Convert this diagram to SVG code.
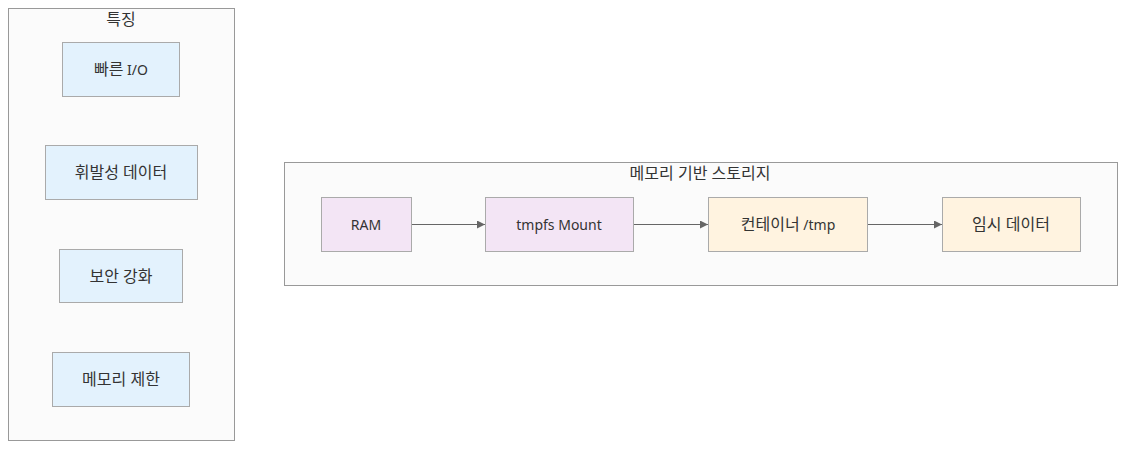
<svg xmlns="http://www.w3.org/2000/svg" width="1133" height="452" viewBox="0 0 1133 452">
<style>
text{font-family:"Noto Sans","Noto Sans CJK KR",sans-serif;font-size:14px;fill:#333;text-anchor:middle;dominant-baseline:central}
.k{font-size:16px}
.cl{fill:#fbfbfb;stroke:#999;stroke-width:1}
.blue{fill:#e3f2fd;stroke:#aaa;stroke-width:1}
.purple{fill:#f3e5f5;stroke:#aaa;stroke-width:1}
.orange{fill:#fff3e0;stroke:#aaa;stroke-width:1}
.edge{fill:none;stroke:#666;stroke-width:1}
</style>
<defs>
<marker id="arr" viewBox="0 0 10 10" refX="10" refY="5" markerWidth="8" markerHeight="8" markerUnits="userSpaceOnUse" orient="auto">
<path d="M0,0L10,5L0,10z" fill="#666"/>
</marker>
</defs>
<rect width="1133" height="452" fill="#fff"/>
<g id="cluster-features">
<rect class="cl" x="8.5" y="8.5" width="226" height="432"/>
<text class="k" x="121" y="19">특징</text>
</g>
<g id="cluster-storage">
<rect class="cl" x="284.5" y="162.5" width="833" height="123"/>
<text class="k" x="700" y="173">메모리 기반 스토리지</text>
</g>
<g id="node-fastio">
<rect class="blue" x="62.5" y="42.5" width="117" height="54"/>
<text x="121" y="69"><tspan class="k">빠른</tspan> I/O</text>
</g>
<g id="node-volatile">
<rect class="blue" x="45.5" y="145.5" width="152" height="54"/>
<text class="k" x="121" y="172">휘발성 데이터</text>
</g>
<g id="node-security">
<rect class="blue" x="59.5" y="249.5" width="123" height="53"/>
<text class="k" x="121" y="276">보안 강화</text>
</g>
<g id="node-memlimit">
<rect class="blue" x="52.5" y="352.5" width="137" height="54"/>
<text class="k" x="121" y="379">메모리 제한</text>
</g>
<g id="node-ram">
<rect class="purple" x="321.5" y="197.5" width="90" height="54"/>
<text x="366" y="224">RAM</text>
</g>
<g id="node-tmpfs">
<rect class="purple" x="485.5" y="197.5" width="148" height="54"/>
<text x="559" y="224">tmpfs Mount</text>
</g>
<g id="node-container">
<rect class="orange" x="708.5" y="197.5" width="159" height="54"/>
<text x="788" y="224"><tspan class="k">컨테이너</tspan> /tmp</text>
</g>
<g id="node-tempdata">
<rect class="orange" x="942.5" y="197.5" width="138" height="54"/>
<text class="k" x="1011" y="224">임시 데이터</text>
</g>
<g id="connectors">
<path class="edge" d="M412,224.5H485" marker-end="url(#arr)"/>
<path class="edge" d="M634,224.5H708" marker-end="url(#arr)"/>
<path class="edge" d="M868,224.5H942" marker-end="url(#arr)"/>
</g>
</svg>
